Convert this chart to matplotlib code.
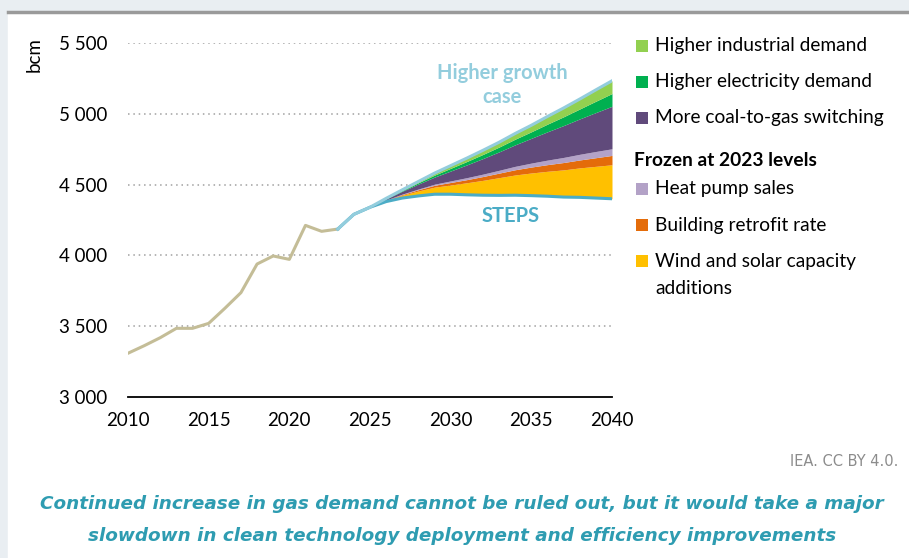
import numpy as np
import matplotlib
matplotlib.use("Agg")
import matplotlib.pyplot as plt
from matplotlib.patches import Rectangle

plt.rcParams['font.family'] = ['Lato', 'DejaVu Sans']

# historical demand (bcm)
hist_years = list(range(2010, 2024))
hist_vals = [3309, 3362, 3419, 3485, 3485, 3520, 3626, 3737, 3939, 3996, 3972, 4212, 4170, 4186]

# projections
proj_years = list(range(2023, 2041))
steps = [4186, 4290, 4340, 4380, 4405, 4420, 4432, 4432, 4428, 4425, 4424, 4425, 4422, 4418, 4412, 4410, 4405, 4400]

wind_solar = [0, 0, 0, 8, 20, 35, 50, 65, 85, 105, 125, 143, 160, 176, 192, 208, 224, 240]
retrofit = [0, 0, 0, 2, 5, 9, 13, 18, 22, 27, 32, 37, 42, 47, 52, 56, 61, 66]
heat_pump = [0, 0, 0, 1, 3, 5, 8, 11, 14, 17, 20, 24, 28, 32, 36, 40, 44, 47]
coal_gas = [0, 0, 0, 8, 20, 35, 50, 70, 90, 110, 130, 152, 175, 200, 225, 250, 275, 300]
electricity = [0, 0, 0, 2, 5, 9, 14, 19, 24, 29, 34, 40, 46, 54, 62, 70, 80, 90]
industrial = [0, 0, 0, 2, 5, 9, 14, 19, 24, 29, 34, 40, 46, 54, 62, 70, 80, 90]

layers = [wind_solar, retrofit, heat_pump, coal_gas, electricity, industrial]
layer_colors = ['#FFC000', '#E46C0A', '#B3A2C7', '#604A7B', '#00B050', '#92D050']

legend_top = ['Higher industrial demand', 'Higher electricity demand', 'More coal-to-gas switching']
legend_top_colors = ['#92D050', '#00B050', '#604A7B']
legend_bottom = ['Heat pump sales', 'Building retrofit rate']
legend_bottom_colors = ['#B3A2C7', '#E46C0A']

fig = plt.figure(figsize=(9.09, 5.58), dpi=100)
fig.patch.set_facecolor('white')
# outer frame like the report page
fig.add_artist(Rectangle((0, 0), 1, 1, transform=fig.transFigure, color='#E9EEF2', zorder=-10))
fig.add_artist(Rectangle((8/909, 0), 1, 1 - 12/558, transform=fig.transFigure, color='white', zorder=-9))
fig.add_artist(plt.Line2D([8/909, 1], [1 - 12/558, 1 - 12/558], transform=fig.transFigure, color='#9A9A9A', lw=2.5))

ax = fig.add_axes([128/909, 1 - 397/558, (612 - 128)/909, (397 - 43)/558])
ax.set_facecolor('none')

steps_arr = np.array(steps, dtype=float)
base = steps_arr.copy()
for vals, c in zip(layers, layer_colors):
    top = base + np.array(vals)
    ax.fill_between(proj_years, base, top, color=c, lw=0, zorder=2)
    base = top

ax.plot(hist_years, hist_vals, color='#C4BD97', lw=2.2, zorder=4)
ax.plot(proj_years, steps, color='#4BACC6', lw=2.2, zorder=4)
ax.plot(proj_years, base, color='#93CDDD', lw=2.2, zorder=5)

ax.set_xlim(2010, 2040)
ax.set_ylim(3000, 5500)
ax.set_xticks(range(2010, 2041, 5))
ax.set_yticks(range(3000, 5501, 500))
ax.set_yticklabels(['{:,}'.format(v).replace(',', ' ') for v in range(3000, 5501, 500)])
for y in range(3500, 5501, 500):
    ax.axhline(y, color='#A0A0A0', lw=1.1, ls=(0, (1, 2.5)), zorder=1)
for s in ['top', 'right', 'left']:
    ax.spines[s].set_visible(False)
ax.spines['bottom'].set_color('black')
ax.spines['bottom'].set_linewidth(1.3)
ax.tick_params(length=0, labelsize=13.5)
ax.tick_params(axis='x', pad=11)
ax.tick_params(axis='y', pad=15)
ax.set_ylabel('bcm', fontsize=13.5)
ax.yaxis.set_label_coords(-0.176, 0.966)

ax.text(2033.2, 5205, 'Higher growth\ncase', color='#93CDDD', fontsize=14.5, fontweight='bold',
        ha='center', va='center', linespacing=1.25)
ax.text(2033.7, 4275, 'STEPS', color='#4BACC6', fontsize=14.5, fontweight='bold', ha='center', va='center')

# legend
def legend_row(ypx, label, color):
    fig.add_artist(Rectangle((636/909, 1 - (ypx + 6)/558), 12/909, 12/558,
                             transform=fig.transFigure, color=color, lw=0))
    fig.text(655/909, 1 - ypx/558, label, fontsize=13.8, va='center')

for ypx, lab, c in zip([46, 82, 118], legend_top, legend_top_colors):
    legend_row(ypx, lab, c)
fig.text(634/909, 1 - 160/558, 'Frozen at 2023 levels', fontsize=13.8, fontweight='bold', va='center')
for ypx, lab, c in zip([189, 225], legend_bottom, legend_bottom_colors):
    legend_row(ypx, lab, c)
legend_row(261, 'Wind and solar capacity', '#FFC000')
fig.text(655/909, 1 - 289/558, 'additions', fontsize=13.8, va='center')

fig.text(898/909, 1 - 462/558, 'IEA. CC BY 4.0.', fontsize=10.5, color='#8C8C8C', ha='right', va='center',
         family=['Liberation Sans Narrow', 'DejaVu Sans'])
fig.text(462/909, 1 - 504/558, 'Continued increase in gas demand cannot be ruled out, but it would take a major',
         fontsize=13.2, color='#2E9CB1', fontweight='bold', style='italic', ha='center', va='center',
         family=['DejaVu Sans'])
fig.text(462/909, 1 - 536/558, 'slowdown in clean technology deployment and efficiency improvements',
         fontsize=13.2, color='#2E9CB1', fontweight='bold', style='italic', ha='center', va='center',
         family=['DejaVu Sans'])

fig.savefig('out.png', dpi=100)
